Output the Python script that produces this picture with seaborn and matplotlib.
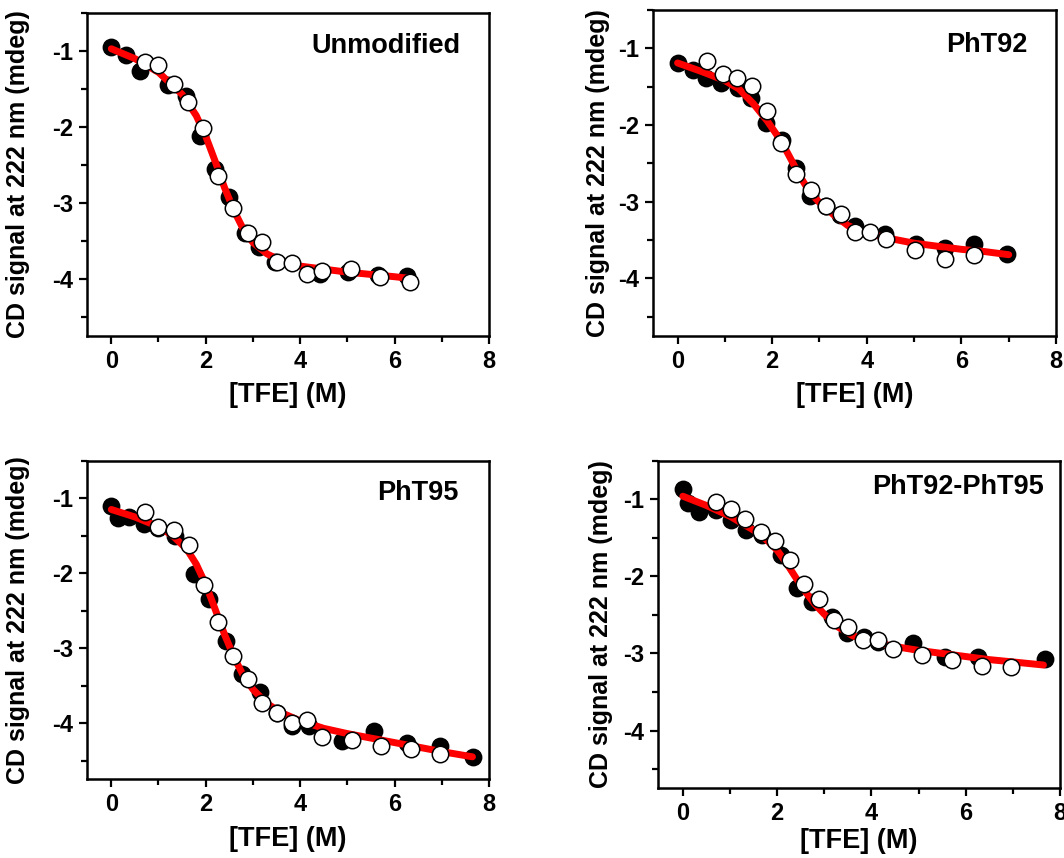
"""CD signal vs TFE concentration, four peptide variants."""

import matplotlib

matplotlib.use("Agg")
import matplotlib.pyplot as plt
import seaborn as sns
from matplotlib.ticker import MultipleLocator

# --- data --------------------------------------------------------------
titles = ["Unmodified", "PhT92", "PhT95", "PhT92-PhT95"]

# filled (black) points
black_x = [
    [0, 0.32, 0.61, 1.2, 1.58, 1.87, 2.2, 2.5, 2.84, 3.12, 3.47, 4.42, 5.02, 5.65, 6.27],
    [0, 0.32, 0.6, 0.91, 1.27, 1.56, 1.86, 2.2, 2.5, 2.8, 3.13, 3.44, 3.76, 4.39, 5.03,
     5.65, 6.26, 6.96],
    [0, 0.14, 0.37, 0.69, 1.0, 1.36, 1.75, 2.08, 2.43, 2.77, 3.14, 3.51, 3.82, 4.18,
     4.88, 5.57, 6.27, 6.96, 7.66],
    [0, 0.1, 0.35, 0.7, 1.02, 1.34, 1.69, 2.09, 2.43, 2.75, 3.17, 3.49, 3.84, 4.15,
     4.89, 5.56, 6.27, 7.68],
]
black_y = [
    [-0.95, -1.05, -1.26, -1.45, -1.59, -2.12, -2.55, -2.92, -3.39, -3.58, -3.77, -3.93,
     -3.91, -3.95, -3.96],
    [-1.19, -1.28, -1.38, -1.45, -1.52, -1.65, -1.97, -2.19, -2.56, -2.93, -3.06, -3.17,
     -3.32, -3.42, -3.55, -3.60, -3.55, -3.68],
    [-1.10, -1.27, -1.25, -1.35, -1.40, -1.51, -2.01, -2.35, -2.91, -3.35, -3.59, -3.87,
     -4.04, -4.04, -4.24, -4.11, -4.26, -4.30, -4.45],
    [-0.87, -1.05, -1.17, -1.14, -1.27, -1.40, -1.46, -1.72, -2.15, -2.33, -2.53, -2.74,
     -2.79, -2.85, -2.87, -3.04, -3.05, -3.07],
]

# open (white) points
white_x = [
    [0.71, 1.0, 1.32, 1.63, 1.94, 2.27, 2.58, 2.89, 3.19, 3.51, 3.82, 4.14, 4.46, 5.08,
     5.69, 6.32],
    [0.63, 0.95, 1.25, 1.57, 1.88, 2.19, 2.51, 2.83, 3.14, 3.46, 3.76, 4.07, 4.4, 5.02,
     5.65, 6.26],
    [0.71, 1.0, 1.32, 1.64, 1.96, 2.27, 2.58, 2.89, 3.19, 3.51, 3.82, 4.14, 4.46, 5.09,
     5.71, 6.34, 6.96],
    [0.7, 1.02, 1.32, 1.65, 1.96, 2.27, 2.57, 2.89, 3.2, 3.51, 3.82, 4.14, 4.45, 5.08,
     5.7, 6.35, 6.97],
]
white_y = [
    [-1.14, -1.19, -1.43, -1.67, -2.01, -2.64, -3.07, -3.40, -3.51, -3.78, -3.79, -3.94,
     -3.90, -3.87, -3.97, -4.04],
    [-1.17, -1.33, -1.38, -1.49, -1.81, -2.24, -2.64, -2.84, -3.06, -3.16, -3.39, -3.39,
     -3.49, -3.63, -3.74, -3.70],
    [-1.19, -1.38, -1.42, -1.62, -2.16, -2.65, -3.11, -3.41, -3.73, -3.87, -4.00, -3.96,
     -4.18, -4.22, -4.30, -4.35, -4.41],
    [-1.03, -1.13, -1.26, -1.42, -1.54, -1.79, -2.10, -2.30, -2.57, -2.66, -2.82, -2.83,
     -2.94, -3.02, -3.08, -3.16, -3.17],
]

# fitted curves (red)
fit_x = [
    [0, 0.5, 1.0, 1.5, 1.8, 2.0, 2.2, 2.4, 2.6, 2.8, 3.0, 3.3, 3.6, 4.0, 4.5, 5.0, 5.5,
     6.0, 6.3],
    [0, 0.5, 1.0, 1.3, 1.6, 1.9, 2.2, 2.4, 2.6, 2.8, 3.0, 3.3, 3.6, 4.0, 4.5, 5.0, 5.5,
     6.0, 6.5, 7.0],
    [0, 0.5, 1.0, 1.3, 1.6, 1.8, 2.0, 2.2, 2.4, 2.6, 2.8, 3.0, 3.3, 3.6, 4.0, 4.5, 5.0,
     5.5, 6.0, 6.5, 7.0, 7.65],
    [0, 0.5, 1.0, 1.5, 1.8, 2.0, 2.2, 2.4, 2.6, 2.8, 3.0, 3.3, 3.6, 4.0, 4.5, 5.0, 5.5,
     6.0, 6.5, 7.0, 7.65],
]
fit_y = [
    [-0.97, -1.10, -1.28, -1.57, -1.85, -2.12, -2.45, -2.80, -3.10, -3.35, -3.52, -3.67,
     -3.76, -3.83, -3.87, -3.91, -3.94, -3.97, -3.99],
    [-1.19, -1.30, -1.42, -1.53, -1.72, -1.95, -2.22, -2.45, -2.68, -2.88, -3.01, -3.17,
     -3.31, -3.41, -3.48, -3.54, -3.58, -3.62, -3.65, -3.69],
    [-1.15, -1.25, -1.38, -1.50, -1.68, -1.88, -2.15, -2.48, -2.82, -3.12, -3.37, -3.55,
     -3.74, -3.86, -3.97, -4.07, -4.14, -4.20, -4.26, -4.32, -4.38, -4.45],
    [-0.96, -1.08, -1.22, -1.40, -1.54, -1.66, -1.83, -2.02, -2.20, -2.36, -2.49, -2.66,
     -2.77, -2.85, -2.91, -2.96, -3.00, -3.04, -3.08, -3.11, -3.15],
]

# axes boxes in figure fraction: left, bottom, width, height
boxes = [
    [0.0815, 0.6084, 0.3781, 0.3764],
    [0.6137, 0.6084, 0.3788, 0.3799],
    [0.0815, 0.0917, 0.3781, 0.3713],
    [0.6187, 0.0812, 0.3775, 0.3818],
]
ylabel_x = [-0.141, -0.107, -0.141, -0.114]
xlabel_y = [-0.142, -0.141, -0.147, -0.122]
title_pos = [(0.928, 0.898), (0.93, 0.893), (0.924, 0.90), (0.96, 0.92)]

sns.set_theme(style="ticks")
plt.rcParams["font.family"] = ["Liberation Sans", "DejaVu Sans"]
plt.rcParams["font.weight"] = "bold"
plt.rcParams["axes.unicode_minus"] = False
for key in ["text.color", "axes.labelcolor", "xtick.color", "ytick.color",
            "axes.edgecolor"]:
    plt.rcParams[key] = "black"

fig = plt.figure(figsize=(10.64, 8.58), dpi=100)

for i in range(4):
    ax = fig.add_axes(boxes[i])

    sns.scatterplot(x=black_x[i], y=black_y[i], ax=ax, s=140, color="black",
                    edgecolor="black", linewidth=1, zorder=2)
    sns.lineplot(x=fit_x[i], y=fit_y[i], ax=ax, color="#ff0000", linewidth=5,
                 sort=False, zorder=3)
    sns.scatterplot(x=white_x[i], y=white_y[i], ax=ax, s=140, color="white",
                    edgecolor="black", linewidth=1.1, zorder=4)

    ax.set_xlim(-0.52, 8)
    ax.set_ylim(-4.75, -0.5)
    ax.xaxis.set_major_locator(MultipleLocator(2))
    ax.xaxis.set_minor_locator(MultipleLocator(1))
    ax.yaxis.set_major_locator(MultipleLocator(1))
    ax.yaxis.set_minor_locator(MultipleLocator(0.5))
    ax.tick_params(which="both", direction="out", width=1.6, colors="black",
                   labelsize=17)
    ax.tick_params(which="major", length=6, pad=4)
    ax.tick_params(which="minor", length=4)
    for lbl in ax.get_xticklabels() + ax.get_yticklabels():
        lbl.set_fontweight("bold")
    for sp in ax.spines.values():
        sp.set_visible(True)
        sp.set_linewidth(1.8)
        sp.set_color("black")

    ax.set_xlabel("[TFE] (M)", fontsize=19.5, fontweight="bold")
    ax.set_ylabel("CD signal at 222 nm (mdeg)", fontsize=18, fontweight="bold")
    ax.yaxis.set_label_coords(ylabel_x[i], 0.5)
    ax.xaxis.set_label_coords(0.5, xlabel_y[i])

    tx, ty = title_pos[i]
    ax.text(tx, ty, titles[i], transform=ax.transAxes, ha="right", va="center",
            fontsize=19.5, fontweight="bold")

fig.savefig("out.png", dpi=100, facecolor="white")
